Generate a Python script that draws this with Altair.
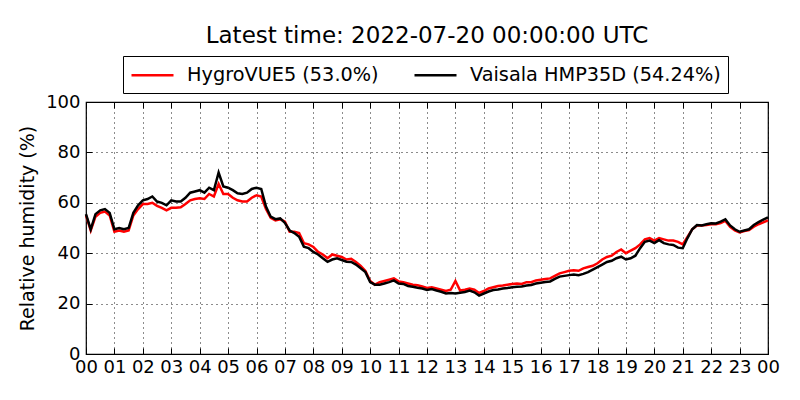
import altair as alt
import pandas as pd

LABEL_H = "HygroVUE5 (53.0%)"
LABEL_V = "Vaisala HMP35D (54.24%)"
TITLE = "Latest time: 2022-07-20 00:00:00 UTC"

# Relative humidity, 10-minute samples, 00:00 -> 24:00 (6 per hour)
hygro = [
    55, 49, 54.5, 56, 56.5, 55,
    48.5, 49, 48.5, 49, 55, 57.5,
    59.5, 59.5, 60, 58.8, 58, 57,
    58, 58, 58.2, 59.5, 61, 61.5,
    61.8, 61.5, 63.5, 62.5, 67.5, 63.5,
    63.5, 62, 61, 60.5, 60.5, 62,
    63, 62.5, 57.5, 54, 53, 53.5,
    52.5, 48.5, 48.5, 48, 44, 43.5,
    42.5, 40.5, 39.5, 38, 39.5, 39,
    38.5, 37.5, 37.8, 36.5, 35, 33,
    29, 27.5, 28.5, 29, 29.5, 30,
    28.8, 28.5, 28, 27.5, 27.3, 26.8,
    26.2, 26.5, 26, 25.5, 25, 25.5,
    29, 25.2, 25.5, 26, 25.5, 24.2,
    25, 26, 26.5, 27, 27.2, 27.5,
    27.8, 28, 27.8, 28.5, 28.5, 29.2,
    29.5, 29.8, 30, 31, 32, 32.5,
    33, 33.2, 33, 34, 34.5, 35,
    36, 37.5, 38.5, 39, 40.5, 41.5,
    40, 41, 42, 43.5, 45.5, 46,
    45, 46, 45.5, 45, 45, 44.5,
    43.5, 46.5, 49.5, 51, 51, 51.2,
    51.5, 51.5, 52, 52.8, 50.5, 49,
    48.2, 48.8, 49.2, 50.5, 51.5, 52.2,
    53,
]

vaisala = [
    55.5, 49.5, 55.5, 57, 57.5, 56,
    49.5, 50, 49.5, 50, 56, 59,
    61, 61.5, 62.5, 60.5, 60, 59,
    61, 60.5, 60.5, 62, 64, 64.5,
    65, 64, 66, 65, 72, 66.5,
    66, 65, 63.8, 63.5, 64, 65.5,
    66, 65.5, 58.5, 54.5, 53.5, 53.8,
    52, 49, 48, 46.5, 42.6, 42,
    40.5, 39.5, 38, 36.6, 37.5, 38,
    37.3, 36.6, 36.5, 35.5, 34, 32.5,
    28.5, 27.5, 27.5, 28, 28.5, 29.2,
    28, 27.8, 27, 26.7, 26.3, 26,
    25.4, 25.8, 25.2, 24.7, 24, 24.2,
    24, 24.3, 24.6, 25.2, 24.5, 23.2,
    24, 24.8, 25.4, 25.6, 26, 26.2,
    26.5, 26.7, 26.8, 27.2, 27.4, 28,
    28.3, 28.6, 28.8, 29.8, 30.7, 31,
    31.3, 31.5, 31.3, 31.8, 32.5, 33.5,
    34.5, 35.5, 36.5, 37, 38, 38.6,
    37.5, 38, 39, 42, 44.5, 45,
    44, 45.2, 44, 43.5, 43.3, 42.2,
    42, 46, 49.5, 51.2, 51, 51.5,
    51.9, 51.8, 52.5, 53.4, 51, 49.5,
    48.5, 49, 49.5, 51.2, 52.3, 53.3,
    54.2,
]

x_ticks = list(range(25))
y_ticks = [0, 20, 40, 60, 80, 100]

rows = []
for i, v in enumerate(hygro):
    rows.append({"hour": i / 6, "rh": v, "series": LABEL_H})
for i, v in enumerate(vaisala):
    rows.append({"hour": i / 6, "rh": v, "series": LABEL_V})
df = pd.DataFrame(rows)

FONT = "DejaVu Sans"
xscale = alt.Scale(domain=[0, 24], nice=False, zero=False)
yscale = alt.Scale(domain=[0, 100], nice=False)

color = alt.Color(
    "series:N",
    scale=alt.Scale(domain=[LABEL_H, LABEL_V], range=["#ff0000", "#000000"]),
    legend=alt.Legend(
        orient="none", legendX=37, legendY=-46, direction="horizontal",
        title=None, strokeColor="black", fillColor="white", padding=7,
        cornerRadius=0, symbolType="M-1,0H3", symbolSize=441,
        symbolStrokeWidth=2.5, labelFontSize=19.3, labelFont=FONT,
        labelColor="black", labelOffset=33, columnPadding=30,
        labelLimit=400,
    ),
)

main_x = alt.Axis(
    values=x_ticks, orient="bottom", title=None,
    labelExpr="(datum.value % 24 < 10 ? '0' : '') + (datum.value % 24)",
    grid=True, gridDash=[1, 4], gridColor="black", gridOpacity=0.9,
    ticks=False, domain=False, labelFontSize=18, labelFont=FONT,
    labelColor="black", labelPadding=4, labelFlush=False,
)
main_y = alt.Axis(
    values=y_ticks, orient="left", title="Relative humidity (%)",
    grid=True, gridDash=[1, 4], gridColor="black", gridOpacity=0.9,
    ticks=False, domain=False, labelFontSize=18, labelFont=FONT,
    labelColor="black", labelPadding=6, titleFontSize=19, titleFont=FONT,
    titleFontWeight="normal", titleColor="black", titlePadding=8,
)

def tick_axis(vals, orient):
    return alt.Axis(
        values=vals, orient=orient, title=None, offset=-6, tickSize=6,
        labels=False, domain=False, grid=False, ticks=True,
        tickColor="black", tickWidth=1,
    )

red = alt.Chart(df).transform_filter(alt.datum.series == LABEL_H).mark_line(
    strokeWidth=2.5
).encode(
    x=alt.X("hour:Q", scale=xscale, axis=main_x),
    y=alt.Y("rh:Q", scale=yscale, axis=main_y),
    color=color,
)

black = alt.Chart(df).transform_filter(alt.datum.series == LABEL_V).mark_line(
    strokeWidth=2.5
).encode(
    x=alt.X("hour:Q", scale=xscale, axis=tick_axis(x_ticks, "bottom")),
    y=alt.Y("rh:Q", scale=yscale, axis=tick_axis(y_ticks, "left")),
    color=color,
)

ghost = alt.Chart(df).transform_filter(alt.datum.series == LABEL_V).mark_line(
    strokeOpacity=0
).encode(
    x=alt.X("hour:Q", scale=xscale, axis=tick_axis(x_ticks, "top")),
    y=alt.Y("rh:Q", scale=yscale, axis=tick_axis(y_ticks, "right")),
)

chart = alt.layer(red, black, ghost).resolve_scale(
    x="shared", y="shared"
).resolve_axis(
    x="independent", y="independent"
).properties(
    width=682, height=252,
    title=alt.TitleParams(
        TITLE, fontSize=23, font=FONT, fontWeight="normal", color="black",
        anchor="middle", offset=8,
    ),
    autosize=alt.AutoSizeParams(type="none"),
    padding={"left": 78, "top": 94, "right": 24, "bottom": 38},
).configure_view(stroke="black", strokeWidth=1.2)

chart.save("out.html", embed_options={"renderer": "svg", "actions": False})
